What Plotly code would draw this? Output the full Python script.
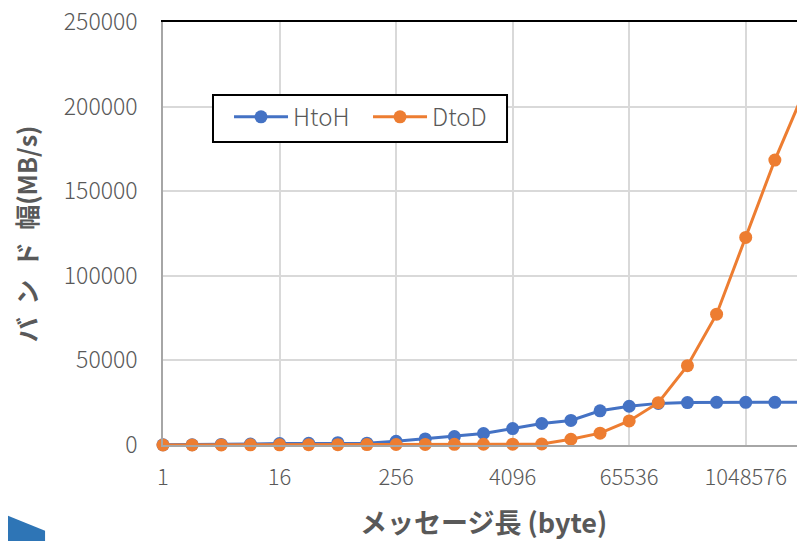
import plotly.graph_objects as go

# メッセージ長 (byte): 2^0 .. 2^22
msg_size = [2 ** i for i in range(23)]

htoh = [80, 160, 320, 600, 900, 1000, 1400, 1100, 2200, 3600, 5000, 6800,
        9700, 12700, 14500, 20200, 22900, 24600, 25100, 25200, 25200, 25200, 25300]
dtod = [10, 20, 40, 80, 120, 160, 200, 250, 300, 350, 400, 450,
        500, 600, 3400, 7000, 14200, 25000, 46900, 77300, 122700, 168400, 208800]

x_ticks = [1, 16, 256, 4096, 65536, 1048576]
y_ticks = [0, 50000, 100000, 150000, 200000, 250000]

BLUE = "#4472C4"
ORANGE = "#ED7D31"
GRAY_TXT = "#595959"
FONT = "Noto Sans CJK JP"
X_RANGE = [0, 22 * 0.30103]
Y_RANGE = [0, 250000]

fig = go.Figure()
fig.add_trace(go.Scatter(
    x=msg_size, y=htoh, name="HtoH", mode="lines+markers",
    line=dict(color=BLUE, width=3), marker=dict(size=13, color=BLUE),
    cliponaxis=False,
))
fig.add_trace(go.Scatter(
    x=msg_size, y=dtod, name="DtoD", mode="lines+markers",
    line=dict(color=ORANGE, width=3), marker=dict(size=13, color=ORANGE),
    cliponaxis=False,
))

# ページ本体の余白 (8px) の分だけ左上の余白を詰める
fig.update_layout(
    width=805, height=541,
    margin=dict(l=155, r=9, t=14, b=104),
    paper_bgcolor="white", plot_bgcolor="white",
    font=dict(family=FONT, color=GRAY_TXT, size=20),
    legend=dict(
        orientation="h", x=0.103, y=0.828, xanchor="left", yanchor="top",
        bgcolor="rgba(0,0,0,0)", borderwidth=0,
        font=dict(size=24, color=GRAY_TXT, weight=300), itemwidth=54,
        entrywidth=70,
    ),
    xaxis=dict(
        type="log", range=X_RANGE, tickvals=x_ticks,
        ticktext=[str(v) for v in x_ticks],
        showgrid=True, gridcolor="#d9d9d9", gridwidth=1.5,
        showline=True, linecolor="#a6a6a6", linewidth=1.5,
        zeroline=False, ticks="", ticklabelstandoff=12, automargin=False,
        ticklabeloverflow="allow",
        tickfont=dict(size=22, color=GRAY_TXT, weight=300),
    ),
    yaxis=dict(
        range=Y_RANGE, tickvals=y_ticks,
        ticktext=[str(v) for v in y_ticks],
        showgrid=True, gridcolor="#d9d9d9", gridwidth=1.5,
        showline=True, linecolor="#a6a6a6", linewidth=1.5,
        zeroline=False, ticks="", ticklabelstandoff=19, automargin=False,
        ticklabeloverflow="allow",
        tickfont=dict(size=23, color=GRAY_TXT, weight=300),
    ),
    # 上・右の黒い枠線
    xaxis2=dict(
        type="log", range=X_RANGE, overlaying="x", side="top", anchor="y",
        showline=True, linecolor="black", linewidth=1.5,
        showgrid=False, zeroline=False, showticklabels=False, ticks="",
        automargin=False,
    ),
    yaxis2=dict(
        range=Y_RANGE, overlaying="y", side="right", anchor="x",
        showline=True, linecolor="black", linewidth=1.5,
        showgrid=False, zeroline=False, showticklabels=False, ticks="",
        automargin=False,
    ),
)
# 枠線用の空トレース
fig.add_trace(go.Scatter(x=[], y=[], xaxis="x2", yaxis="y2", showlegend=False))

# 凡例の枠
fig.add_shape(type="rect", xref="paper", yref="paper", layer="above",
              x0=0.078, x1=0.5367, y0=0.7163, y1=0.8274,
              fillcolor="white", line=dict(color="black", width=2))

fig.add_annotation(
    text="<b>バ\u2002ン\u2002ド\u2002幅(MB/s)</b>", xref="paper", yref="paper",
    x=-0.214, y=0.50, textangle=-90, showarrow=False,
    xanchor="center", yanchor="middle",
    font=dict(size=25, color=GRAY_TXT, family=FONT),
)
fig.add_annotation(
    text="<b>メッセージ長 (byte)</b>", xref="paper", yref="paper",
    x=0.5, y=-0.181, showarrow=False, xanchor="center", yanchor="middle",
    font=dict(size=27, color=GRAY_TXT, family=FONT),
)

# 左下のアイコン断片
fig.add_shape(type="path", xref="paper", yref="paper", layer="above",
              path="M -0.262 -0.17 L -0.249 -0.163 L -0.184 -0.203 L -0.184 -0.227 L -0.262 -0.227 Z",
              fillcolor="#2e75b6", line=dict(width=0))

fig.write_html("out.html")
